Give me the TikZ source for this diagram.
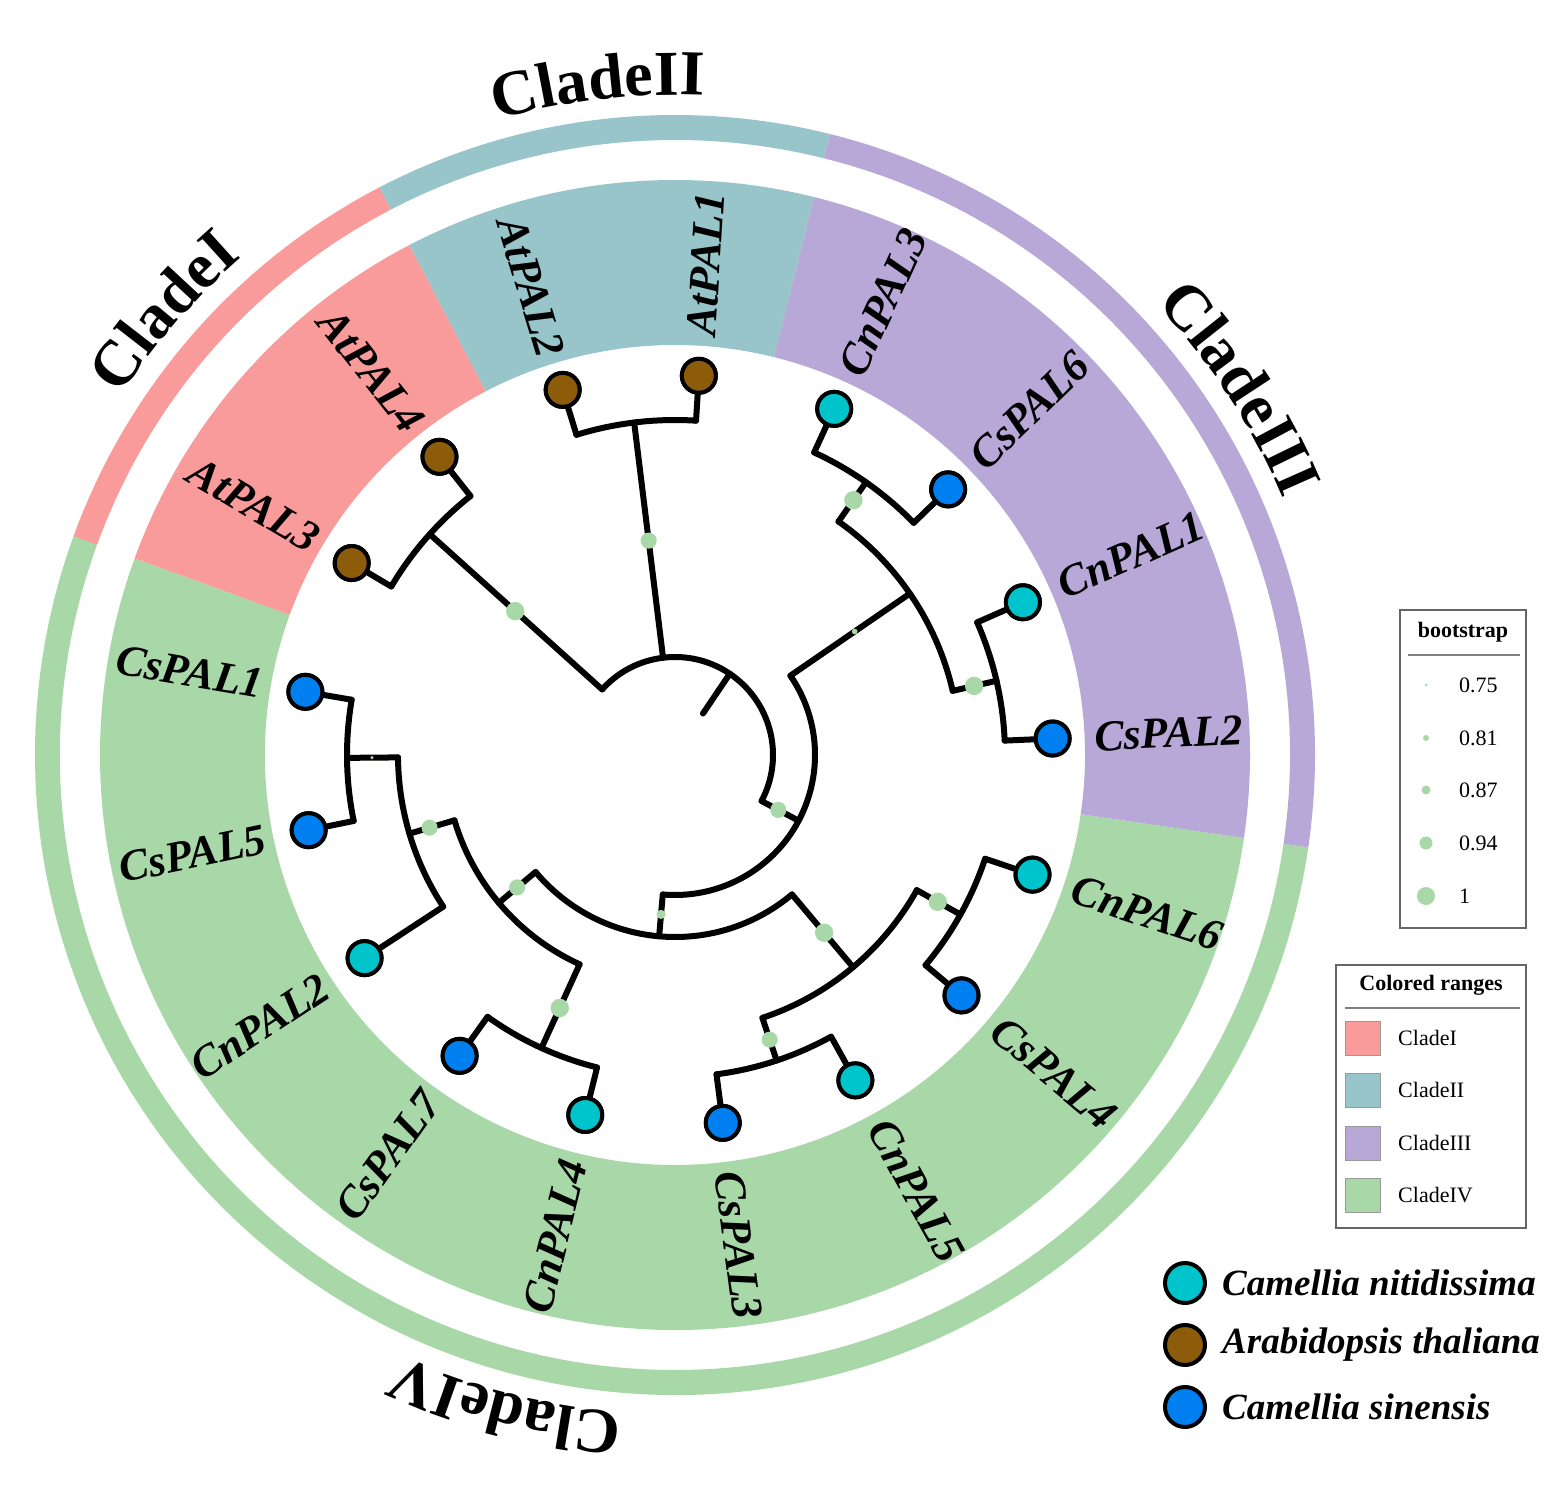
\documentclass[tikz,border=0pt]{standalone}
\usepackage{fontspec}
\setmainfont{Liberation Serif}
\usetikzlibrary{decorations.text}
\definecolor{cI}{HTML}{F99B9A}
\definecolor{cII}{HTML}{97C5CA}
\definecolor{cIII}{HTML}{B8A8D8}
\definecolor{cIV}{HTML}{A8D8A8}
\definecolor{cn}{HTML}{00C4CC}
\definecolor{at}{HTML}{8C5C0A}
\definecolor{cs}{HTML}{0080F0}
\definecolor{bs}{HTML}{A8D8A8}
\newcommand{\band}[5]{\fill[#5] (#1:#3) arc[start angle=#1,end angle=#2,radius=#3] -- (#2:#4) arc[start angle=#2,end angle=#1,radius=#4] -- cycle;}
\newcommand{\bsdot}[3]{\fill[bs] (#1:#2) circle[radius=#3*1.15];}
\newcommand{\lblR}[3]{\node[lbl,anchor=west,rotate=#1] (#3) at (#1:420) {#2};}
\newcommand{\lblL}[3]{\node[lbl,anchor=east,rotate=#1-180] (#3) at (#1:418) {#2};}
\begin{document}
\begin{tikzpicture}[x=1pt,y=1pt,
  tree/.style={line width=6pt,line cap=round,line join=miter},
  leaf/.style={circle,draw=black,line width=4pt,minimum size=34pt,inner sep=0pt},
  lbl/.style={font=\fontsize{44}{48}\selectfont\bfseries\itshape,inner sep=0pt},
  leg/.style={font=\fontsize{22}{24}\selectfont,inner sep=0pt},
  box/.style={draw=black!60,line width=2pt}]
\useasboundingbox (-675,-738) rectangle (890,755);
% bands
\band{160}{351.7}{410}{575}{cIV}
\band{117.5}{160}{410}{575}{cI}
\band{76}{117.5}{410}{575}{cII}
\band{-8.3}{76}{410}{575}{cIII}
\band{160}{351.7}{615}{640}{cIV}
\band{117.5}{160}{615}{640}{cI}
\band{76}{117.5}{615}{640}{cII}
\band{-8.3}{76}{615}{640}{cIII}
% clade labels
\foreach \c/\t in {96.6/CladeII,139/CladeI,33/CladeIII,255.4/CladeIV}{
  \path[decorate,decoration={text along path,text align=center,
    text={|\fontsize{64}{68}\selectfont\bfseries|\t}}]
    (\c+30:660) arc[start angle=\c+30,end angle=\c-30,radius=660];}
% leaves
\node[leaf,fill=at] (AtPAL1) at (86.4:380) {};
\node[leaf,fill=cn] (CnPAL3) at (65.3:381) {};
\node[leaf,fill=cs] (CsPAL6) at (44.2:381) {};
\node[leaf,fill=cn] (CnPAL1) at (23.7:380) {};
\node[leaf,fill=cs] (CsPAL2) at (2.5:378) {};
\node[leaf,fill=cn] (CnPAL6) at (341.5:377) {};
\node[leaf,fill=cs] (CsPAL4) at (320:374) {};
\node[leaf,fill=cn] (CnPAL5) at (299:372) {};
\node[leaf,fill=cs] (CsPAL3) at (277.4:371) {};
\node[leaf,fill=cn] (CnPAL4) at (256:371) {};
\node[leaf,fill=cs] (CsPAL7) at (234.4:370) {};
\node[leaf,fill=cn] (CnPAL2) at (213.2:371) {};
\node[leaf,fill=cs] (CsPAL5) at (191.6:374) {};
\node[leaf,fill=cs] (CsPAL1) at (170.3:375) {};
\node[leaf,fill=at] (AtPAL3) at (149.3:376) {};
\node[leaf,fill=at] (AtPAL4) at (128.3:380) {};
\node[leaf,fill=at] (AtPAL2) at (107.1:382) {};
% tree
\begin{scope}[tree]
\draw (56:50) -- (56:98);
\draw (138:98) arc[start angle=138,end angle=-28,radius=98];
\draw (138:98) -- (138:330);
\draw (149.3:330) arc[start angle=149.3,end angle=128.3,radius=330];
\draw (149.3:330) -- (AtPAL3); \draw (128.3:330) -- (AtPAL4);
\draw (97:98) -- (97:335);
\draw (107.1:335) arc[start angle=107.1,end angle=86.4,radius=335];
\draw (107.1:335) -- (AtPAL2); \draw (86.4:335) -- (AtPAL1);
\draw (-28:98) -- (-28:140);
\draw (34.5:140) arc[start angle=34.5,end angle=-95,radius=140];
\draw (34.5:140) -- (34.5:285);
\draw (55:285) arc[start angle=55,end angle=13,radius=285];
\draw (55:285) -- (55:333);
\draw (65.3:333) arc[start angle=65.3,end angle=44.2,radius=333];
\draw (65.3:333) -- (CnPAL3); \draw (44.2:333) -- (CsPAL6);
\draw (13:285) -- (13:330);
\draw (23.7:330) arc[start angle=23.7,end angle=2.5,radius=330];
\draw (23.7:330) -- (CnPAL1); \draw (2.5:330) -- (CsPAL2);
\draw (-95:140) -- (-95:182);
\draw (220:182) arc[start angle=220,end angle=310,radius=182];
\draw (310:182) -- (310:277);
\draw (288.4:277) arc[start angle=288.4,end angle=330.8,radius=277];
\draw (288.4:277) -- (288.4:322);
\draw (277.4:322) arc[start angle=277.4,end angle=299,radius=322];
\draw (277.4:322) -- (CsPAL3); \draw (299:322) -- (CnPAL5);
\draw (330.8:277) -- (330.8:327);
\draw (320:327) arc[start angle=320,end angle=341.5,radius=327];
\draw (320:327) -- (CsPAL4); \draw (341.5:327) -- (CnPAL6);
\draw (220:182) -- (220:230);
\draw (196.5:230) arc[start angle=196.5,end angle=245.5,radius=230];
\draw (245.5:230) -- (245.5:322);
\draw (234.4:322) arc[start angle=234.4,end angle=256,radius=322];
\draw (234.4:322) -- (CsPAL7); \draw (256:322) -- (CnPAL4);
\draw (196.5:230) -- (196.5:277);
\draw (180.5:277) arc[start angle=180.5,end angle=213.2,radius=277];
\draw (213.2:277) -- (CnPAL2);
\draw (180.5:277) -- (180.5:328);
\draw (170.3:328) arc[start angle=170.3,end angle=191.6,radius=328];
\draw (170.3:328) -- (CsPAL1); \draw (191.6:328) -- (CsPAL5);
\end{scope}
\foreach \a/\r/\c in {86.4/380/at,65.3/381/cn,44.2/381/cs,23.7/380/cn,2.5/378/cs,341.5/377/cn,320/374/cs,299/372/cn,277.4/371/cs,256/371/cn,234.4/370/cs,213.2/371/cn,191.6/374/cs,170.3/375/cs,149.3/376/at,128.3/380/at,107.1/382/at}
  \node[leaf,fill=\c] at (\a:\r) {};
% bootstrap dots
\bsdot{138}{215}{8} \bsdot{97}{216}{7} \bsdot{-28}{117}{7}
\bsdot{34.5}{218}{2.5} \bsdot{55}{311}{8} \bsdot{13}{307}{8}
\bsdot{-95}{160}{4} \bsdot{310}{232}{8} \bsdot{288.4}{300}{7}
\bsdot{330.8}{301}{8} \bsdot{220}{206}{7} \bsdot{245.5}{278}{8}
\bsdot{196.5}{256}{7} \bsdot{180.5}{303}{1.5}
% leaf labels
\lblR{86.4}{AtPAL1}{lAtPAL1}
\lblR{65.3}{CnPAL3}{lCnPAL3}
\lblR{44.2}{CsPAL6}{lCsPAL6}
\lblR{23.7}{CnPAL1}{lCnPAL1}
\lblR{2.5}{CsPAL2}{lCsPAL2}
\lblR{-18.5}{CnPAL6}{lCnPAL6}
\lblR{-40}{CsPAL4}{lCsPAL4}
\lblR{-61}{CnPAL5}{lCnPAL5}
\lblR{-82.6}{CsPAL3}{lCsPAL3}
\lblL{256}{CnPAL4}{lCnPAL4}
\lblL{234.4}{CsPAL7}{lCsPAL7}
\lblL{213.2}{CnPAL2}{lCnPAL2}
\lblL{191.6}{CsPAL5}{lCsPAL5}
\lblL{170.3}{CsPAL1}{lCsPAL1}
\lblL{149.3}{AtPAL3}{lAtPAL3}
\lblL{128.3}{AtPAL4}{lAtPAL4}
\lblL{107.1}{AtPAL2}{lAtPAL2}
% bootstrap legend
\draw[box] (725,145) rectangle (851,-173);
\node[leg,font=\fontsize{22}{24}\selectfont\bfseries] (bt) at (788,123) {bootstrap};
\draw[black!50,line width=1.5pt] (733,100) -- (845,100);
\foreach \y/\r/\t in {70/1.5/0.75,17/3/0.81,-35/4.5/0.87,-88/6.5/0.94,-141/9/1}{
  \fill[bs] (751,\y) circle[radius=\r];
  \node[leg,anchor=west] at (784,\y) {\t};}
% colored ranges legend
\draw[box] (661,-210) rectangle (851,-473);
\node[leg,font=\fontsize{22}{24}\selectfont\bfseries] (cr) at (756,-230) {Colored ranges};
\draw[black!50,line width=1.5pt] (670,-253) -- (845,-253);
\foreach \y/\c/\t in {-283/cI/CladeI,-335/cII/CladeII,-388/cIII/CladeIII,-440/cIV/CladeIV}{
  \draw[fill=\c,draw=black!40,line width=1pt] (670,\y-17) rectangle (705,\y+17);
  \node[leg,anchor=west] at (723,\y) {\t};}
% species legend
\foreach \y/\c/\t in {-528/cn/Camellia nitidissima,-590/at/Arabidopsis thaliana,-652/cs/Camellia sinensis}{
  \node[leaf,fill=\c,minimum size=40pt] at (510,\y) {};
  \node[anchor=west,inner sep=0pt,font=\fontsize{37}{40}\selectfont\bfseries\itshape] at (547,\y) {\t};}
\end{tikzpicture}
\end{document}
